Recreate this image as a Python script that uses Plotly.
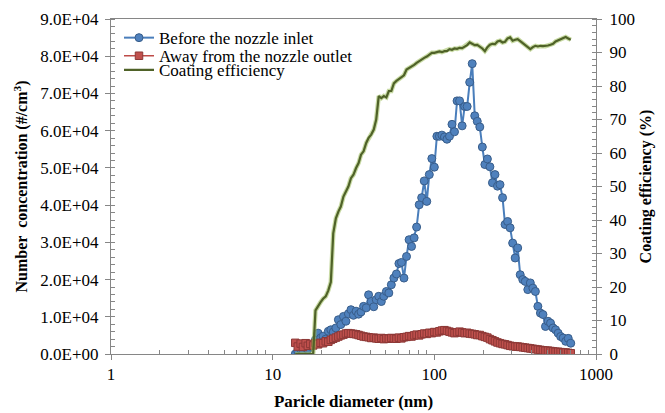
import plotly.graph_objects as go

# Particle size bins (nm), SMPS channel midpoints
diameter_nm = [
    13.8, 14.3, 14.9, 15.4, 16.0, 16.5, 17.1, 17.8, 18.4, 19.1,
    19.8, 20.5, 21.3, 22.1, 22.9, 23.7, 24.6, 25.5, 26.4, 27.4,
    28.4, 29.4, 30.5, 31.6, 32.8, 34.0, 35.2, 36.5, 37.9, 39.2,
    40.7, 42.2, 43.7, 45.3, 47.0, 48.7, 50.5, 52.3, 54.2, 56.2,
    58.3, 60.4, 62.6, 64.9, 67.3, 69.8, 72.3, 75.0, 77.7, 80.6,
    83.5, 86.6, 89.8, 93.1, 96.5, 100.0, 103.7, 107.5, 111.4, 115.5,
    119.7, 124.1, 128.6, 133.3, 138.2, 143.3, 148.6, 154.0, 159.6, 165.5,
    171.5, 177.8, 184.3, 191.1, 198.1, 205.4, 212.9, 220.7, 228.8, 237.2,
    245.8, 254.8, 264.2, 273.8, 283.9, 294.3, 305.1, 316.2, 327.8, 339.8,
    352.3, 365.2, 378.6, 392.4, 406.8, 421.7, 437.1, 453.2, 469.8, 487.0,
    504.8, 523.3, 542.5, 562.3, 583.1, 604.3, 626.5, 649.4, 673.2, 697.9,
]

# Number concentration before the nozzle inlet (#/cm3)
before_inlet = [
    0, 800, 1300, 900, 1700, 1200, 2100, 2700, 3800, 5600,
    4300, 4800, 4000, 6100, 6500, 5900, 7000, 9200, 7900, 10100,
    8800, 10800, 11900, 10400, 11500, 10700, 11300, 12800, 12400, 15900,
    14100, 12700, 14600, 15500, 14100, 15500, 16800, 16400, 18600, 20400,
    21500, 24300, 24600, 20400, 26200, 30700, 28900, 31200, 34100, 40100,
    42000, 46500, 41000, 48200, 52500, 50200, 58500, 58500, 58800, 58300,
    57700, 58500, 61700, 59700, 68000, 68000, 61300, 66500, 66500, 73000,
    78000, 64000, 62500, 61000, 55600, 50900, 52400, 50300, 46000, 48200,
    45100, 45500, 42000, 34800, 35600, 33900, 29800, 25800, 28500, 21300,
    20000, 19500, 17300, 19100, 17700, 16800, 12800, 11000, 10600, 7400,
    8800, 8300, 7000, 6500, 5600, 4700, 4300, 3400, 4200, 2900,
]

# Number concentration away from the nozzle outlet (#/cm3)
away_outlet = [
    3000, 2000, 2800, 1900, 2900, 2200, 2700, 2300, 2900, 2600,
    3000, 2900, 3400, 3300, 3800, 4100, 4400, 4700, 5000, 5200,
    5500, 5600, 5500, 5400, 5300, 5100, 4900, 4700, 4600, 4500,
    4300, 4400, 4200, 4100, 4300, 4000, 4200, 4100, 4300, 4200,
    4100, 4400, 4200, 4500, 4600, 4800, 4700, 5000, 5200, 5000,
    5300, 5500, 5400, 5700, 5600, 5900, 5800, 6100, 6300, 6400,
    6200, 6000, 5800, 5600, 5800, 6000, 5800, 5600, 5700, 5500,
    5400, 5300, 5100, 5100, 4800, 4600, 4400, 4000, 3700, 3400,
    3100, 2900, 2700, 2600, 2400, 2200, 2100, 2000, 2000, 1900,
    1800, 1700, 1600, 1500, 1400, 1300, 1200, 1100, 1000, 900,
    900, 800, 700, 600, 600, 500, 400, 400, 300, 200,
]

# Coating efficiency (%)
coating_eff = [
    0, 0, 0, 0, 0, 0, 0, 0, 13, 14.5,
    15.5, 16.5, 17.2, 19, 21.5, 36, 40.5, 42.5, 44, 47,
    48.5, 50, 52.5, 53.5, 55.5, 57, 59.5, 60.5, 63, 64.5,
    65.5, 67, 70, 77, 76.4, 77, 76.6, 78.5, 78.5, 80.8,
    81.5, 82, 82.5, 83.2, 84.9, 85.3, 85.9, 86.3, 86.9, 87.5,
    88, 88.4, 88.8, 89.3, 89.9, 89.9, 90.1, 90.3, 90.1, 90.4,
    90.4, 91, 90.8, 91.2, 91.1, 91.4, 91.3, 91.8, 92.2, 93,
    92.6, 92.2, 92.3, 91.8, 91.2, 90.4, 91.6, 92.3, 92.6, 92.5,
    93.3, 93.5, 93, 93.2, 94.2, 94.5, 93.5, 93.8, 94, 93.4,
    92.8, 92, 91.6, 91, 91.6, 92, 91.8, 92, 91.9, 91.9,
    92.1, 92.3, 92.6, 93.3, 93.6, 94, 94.3, 94.6, 94.2, 93.8,
]

conc_tickvals = [0, 10000, 20000, 30000, 40000, 50000, 60000, 70000, 80000, 90000]
conc_ticktext = ["0.0E+00", "1.0E+04", "2.0E+04", "3.0E+04", "4.0E+04",
                 "5.0E+04", "6.0E+04", "7.0E+04", "8.0E+04", "9.0E+04"]
x_tickvals = [1, 10, 100, 1000]
x_ticktext = ["1", "10", "100", "1000"]
x_minor = [2, 3, 4, 5, 6, 7, 8, 9, 20, 30, 40, 50, 60, 70, 80, 90,
           200, 300, 400, 500, 600, 700, 800, 900]

FONT = "Liberation Serif, Times New Roman, serif"
AXIS = "#868686"
TICK_SIZE = 17
LEG_SIZE = 17

fig = go.Figure()

fig.add_trace(go.Scatter(
    x=diameter_nm, y=before_inlet, name="Before the nozzle inlet",
    mode="lines+markers", legend="legend",
    line=dict(color="#4A7EBB", width=2),
    marker=dict(symbol="circle", size=8, color="#4F81BD",
                line=dict(color="#385D8A", width=1)),
))
fig.add_trace(go.Scatter(
    x=diameter_nm, y=away_outlet, name="Away from the nozzle outlet",
    mode="lines+markers", legend="legend2",
    line=dict(color="#BE4B48", width=1.5),
    marker=dict(symbol="square", size=7.5, color="#C0504D",
                line=dict(color="#8C3836", width=1)),
))
# soft halo under the efficiency line
fig.add_trace(go.Scatter(
    x=diameter_nm, y=coating_eff, yaxis="y2", mode="lines",
    line=dict(color="rgba(155,187,89,0.55)", width=4.5),
    showlegend=False, hoverinfo="skip",
))
fig.add_trace(go.Scatter(
    x=diameter_nm, y=coating_eff, yaxis="y2", name="Coating efficiency",
    mode="lines", legend="legend3",
    line=dict(color="#4F6228", width=2.2),
))


def legend_box(y):
    return dict(x=0.0165, y=y, xanchor="left", yanchor="middle",
                bgcolor="rgba(0,0,0,0)", borderwidth=0,
                font=dict(family=FONT, size=LEG_SIZE, color="black"),
                itemwidth=30)


fig.update_layout(
    width=665, height=413,
    margin=dict(l=111, r=69, t=19, b=59),
    paper_bgcolor="white", plot_bgcolor="white",
    font=dict(family=FONT, size=TICK_SIZE, color="black"),
    showlegend=True,
    legend=legend_box(0.943),
    legend2=legend_box(0.889),
    legend3=legend_box(0.847),
    xaxis=dict(
        type="log", range=[0, 3], automargin=False,
        tickvals=x_tickvals, ticktext=x_ticktext,
        ticks="outside", ticklen=5, tickcolor=AXIS,
        ticklabelstandoff=0,
        minor=dict(tickvals=x_minor, ticks="inside", ticklen=4, tickcolor=AXIS),
        showline=True, linecolor=AXIS, linewidth=1, mirror=True,
        showgrid=False, zeroline=False,
        tickfont=dict(family=FONT, size=TICK_SIZE),
        title=dict(text="<b>Paricle diameter (nm)</b>", standoff=11,
                   font=dict(family=FONT, size=17)),
    ),
    yaxis=dict(
        range=[0, 90000], automargin=False,
        tickvals=conc_tickvals, ticktext=conc_ticktext,
        ticks="outside", ticklen=5, tickcolor=AXIS,
        ticklabelstandoff=3,
        minor=dict(dtick=2000, ticks="inside", ticklen=4, tickcolor=AXIS),
        showline=True, linecolor=AXIS, linewidth=1,
        showgrid=False, zeroline=False,
        tickfont=dict(family=FONT, size=TICK_SIZE),
        title=dict(text="<b>Number  concentration (#/cm<sup>3</sup>)</b>",
                   standoff=8, font=dict(family=FONT, size=16)),
    ),
    yaxis2=dict(
        overlaying="y", side="right", range=[0, 100], automargin=False,
        dtick=10, tick0=0,
        ticks="outside", ticklen=5, tickcolor=AXIS,
        ticklabelstandoff=4,
        minor=dict(dtick=2, ticks="inside", ticklen=4, tickcolor=AXIS),
        showline=True, linecolor=AXIS, linewidth=1,
        showgrid=False, zeroline=False,
        tickfont=dict(family=FONT, size=TICK_SIZE),
        title=dict(text="<b>Coating efficiency (%)</b>", standoff=5,
                   font=dict(family=FONT, size=16)),
    ),
)

fig.write_html("out.html")
